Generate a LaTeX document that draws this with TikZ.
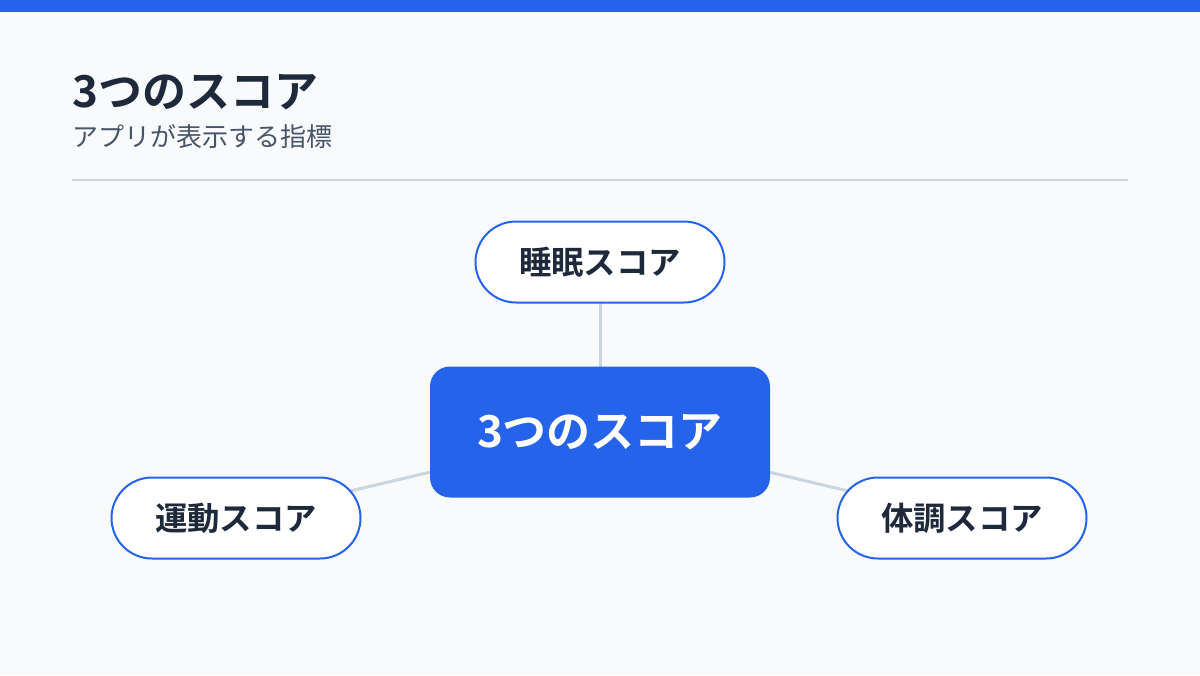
\documentclass[tikz,border=0pt]{standalone}
\usepackage{fontspec}
\usetikzlibrary{backgrounds}
\setmainfont{Noto Sans CJK JP}[BoldFont={* Bold}]
\definecolor{bg}{HTML}{F8FAFC}
\definecolor{brand}{HTML}{2563EB}
\definecolor{ink}{HTML}{1E293B}
\definecolor{subink}{HTML}{475569}
\definecolor{rule}{HTML}{D1D5DB}
\definecolor{link}{HTML}{CBD5E1}
\begin{document}
\begin{tikzpicture}[x=0.75pt,y=-0.75pt,
  pill/.style={draw=brand,line width=1.5pt,fill=white,rounded corners=30.375pt,
    minimum width=186.75pt,minimum height=60.75pt,inner sep=0pt,
    font=\fontsize{24.3pt}{29pt}\selectfont\bfseries,text=ink},
  hub/.style={fill=brand,rounded corners=15pt,minimum width=255pt,minimum height=98.25pt,
    inner sep=0pt,font=\fontsize{33pt}{38pt}\selectfont\bfseries,text=white},
  linkline/.style={draw=link,line width=2.25pt}]
\useasboundingbox (0,0) rectangle (1200,675);
\node[anchor=base west,inner sep=0pt,font=\fontsize{33pt}{38pt}\selectfont\bfseries,text=ink] (title) at (72,107) {3つのスコア};
\node[anchor=base west,inner sep=0pt,font=\fontsize{19.5pt}{24pt}\selectfont,text=subink] (subtitle) at (72,146) {アプリが表示する指標};
\draw[rule,line width=1pt] (72,180) -- (1128,180);
\node[hub] (hub) at (600,432) {3つのスコア};
\node[pill] (sleep) at (600,262) {睡眠スコア};
\node[pill] (move) at (236,518) {運動スコア};
\node[pill] (body) at (962,518) {体調スコア};
\begin{scope}[on background layer]
\fill[bg] (0,0) rectangle (1200,675);
\fill[brand] (0,0) rectangle (1200,12);
\path[linkline] (hub.center) -- (sleep.center);
\path[linkline] (hub.center) -- (move.center);
\path[linkline] (hub.center) -- (body.center);
\end{scope}
\end{tikzpicture}
\end{document}
